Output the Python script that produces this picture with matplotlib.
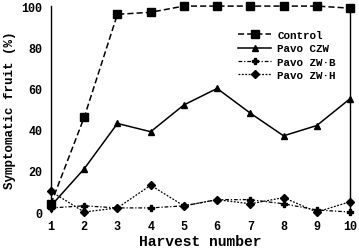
import matplotlib
matplotlib.use("Agg")
import matplotlib.pyplot as plt

harvest = [1, 2, 3, 4, 5, 6, 7, 8, 9, 10]
control = [4, 46, 96, 97, 100, 100, 100, 100, 100, 99]
pavo_czw = [3, 21, 43, 39, 52, 60, 48, 37, 42, 55]
pavo_zwb = [2, 3, 2, 2, 3, 6, 6, 4, 1, 0]
pavo_zwh = [10, 0, 2, 13, 3, 6, 4, 7, 0, 5]

fig = plt.figure(figsize=(3.59, 2.53), dpi=100)
ax = fig.add_axes([0.142, 0.158, 0.833, 0.814])
font = ["Liberation Mono", "DejaVu Sans Mono"]

ax.plot(harvest, control, color="black", linestyle=(0, (4, 2)), lw=1.1,
        marker="s", ms=5.5, clip_on=False, label="Control")
ax.plot(harvest, pavo_czw, color="black", linestyle="-", lw=1.1,
        marker="^", ms=5, clip_on=False, label="Pavo CZW")
ax.plot(harvest, pavo_zwb, color="black", linestyle=(0, (3, 1.5, 1, 1.5)), lw=0.9,
        marker="P", ms=5, clip_on=False, label="Pavo ZW\u00b7B")
ax.plot(harvest, pavo_zwh, color="black", linestyle=(0, (1.5, 1.2)), lw=0.9,
        marker="D", ms=4.5, clip_on=False, label="Pavo ZW\u00b7H")

ax.set_xlim(1, 10)
ax.set_ylim(0, 100)
ax.set_xticks(harvest)
ax.set_yticks([0, 20, 40, 60, 80, 100])
ax.spines["top"].set_visible(False)
ax.spines["bottom"].set_visible(False)
ax.spines["left"].set_linewidth(1.0)
ax.spines["right"].set_linewidth(1.0)
ax.tick_params(length=0, pad=6)
for lab in ax.get_xticklabels() + ax.get_yticklabels():
    lab.set_family(font)
    lab.set_fontweight("bold")
    lab.set_fontsize(8.5)

ax.set_xlabel("Harvest number", family=font, fontweight="bold", fontsize=10.5, labelpad=1)
ax.set_ylabel("Symptomatic fruit (%)", family=font, fontweight="bold", fontsize=9, labelpad=4)

leg = ax.legend(loc="upper right", bbox_to_anchor=(0.985, 0.93), frameon=False,
                prop={"family": font, "weight": "bold", "size": 7.8},
                handlelength=3.0, labelspacing=0.3, handletextpad=0.6)

fig.savefig("out.png", dpi=100)
